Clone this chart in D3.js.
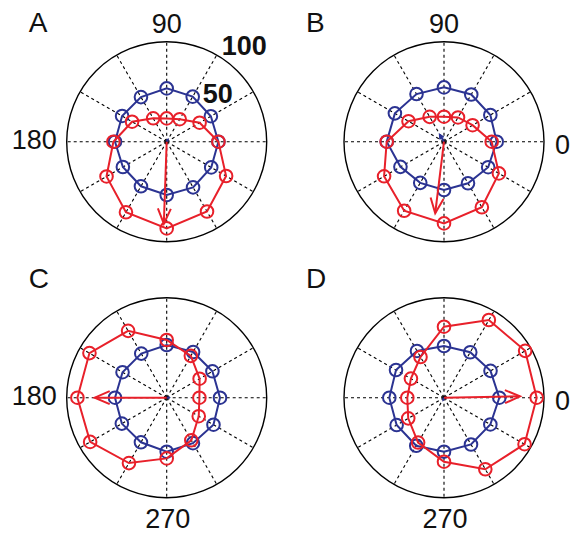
<!DOCTYPE html>
<html><head><meta charset="utf-8">
<script src="https://cdn.jsdelivr.net/npm/d3@7/dist/d3.min.js"></script>
<style>html,body{margin:0;padding:0;background:#fff;}svg{display:block;}</style>
</head><body>
<script>
// Directions (degrees, counter-clockwise from east)
const angles = [0, 30, 60, 90, 120, 150, 180, 210, 240, 270, 300, 330];
const panelNames = ["A", "B", "C", "D"];
const blueA = [51.7, 51, 52, 53.3, 51.5, 51.5, 51.7, 50.6, 51.5, 53.3, 52.7, 51.4];
const redA  = [51.7, 38, 26, 23.3, 27, 40, 53.3, 69.5, 81.5, 86.7, 80.6, 68.6];
const blueB = [52.7, 53.5, 54.5, 54.3, 55, 56.7, 57.3, 50.3, 47.5, 48.3, 48, 51];
const redB  = [47.7, 33, 28, 25, 28.7, 41, 57.3, 69.2, 79.7, 81.7, 75.7, 63.4];
const blueC = [53.3, 52.8, 52.8, 52.7, 50.9, 51, 51.7, 51.8, 51.5, 54, 52.5, 54];
const redC  = [32.7, 38, 48.3, 57.7, 77.2, 89.2, 89.3, 88.4, 75.5, 60.7, 49.2, 37];
const blueD = [55.3, 53.7, 52.5, 51.7, 54, 55.4, 54.7, 54.7, 55.5, 54, 54, 53.5];
const redD  = [92.7, 93.7, 89.7, 71, 47, 38.2, 36.7, 41.3, 51.8, 64, 82.6, 93];
// Mean vectors: [angle deg, length]
const redArrows  = [[268, 82], [263, 72], [180, 72], [1, 76]];
const blueArrows = [[60, 2], [121, 8], [0, 2], [250, 2]];
// Angle tick labels shown per panel
const angleLabels = [["90", "180"], ["90", "0"], ["180", "270"], ["0", "270"]];
const rTicks = ["50", "100"];
const rMax = 100;

const W = 573, H = 534;
const svg = d3.select("body").append("svg").attr("width", W).attr("height", H);
const font = "'Liberation Sans', Arial, Helvetica, sans-serif";
const blue = "#2b3392", red = "#e8202a";

const centers = [[166.7, 141.7], [444, 141.7], [166.7, 397.7], [444, 397.7]];
const R = 100;
const r = d3.scaleLinear().domain([0, rMax]).range([0, R]);
const toRad = d => d * Math.PI / 180;
const xy = (deg, v) => [r(v) * Math.cos(toRad(deg)), -r(v) * Math.sin(toRad(deg))];

const blues = [blueA, blueB, blueC, blueD];
const reds = [redA, redB, redC, redD];

panelNames.forEach((name, i) => {
  const [cx, cy] = centers[i];
  const g = svg.append("g").attr("transform", `translate(${cx},${cy})`);
  // spokes
  angles.forEach(a => {
    const [x, y] = xy(a, rMax);
    g.append("line").attr("x1", 0).attr("y1", 0).attr("x2", x).attr("y2", y)
      .attr("stroke", "#000").attr("stroke-width", 1.1).attr("stroke-dasharray", "3,3");
  });
  g.append("circle").attr("r", r(rMax)).attr("fill", "none").attr("stroke", "#000").attr("stroke-width", 1.4);

  const line = d3.lineRadial()
    .angle((d, k) => Math.PI / 2 - toRad(angles[k]))
    .radius(d => r(d))
    .curve(d3.curveLinearClosed);

  [[blues[i], blue], [reds[i], red]].forEach(([vals, col]) => {
    g.append("path").attr("d", line(vals)).attr("fill", "none").attr("stroke", col).attr("stroke-width", 2);
    vals.forEach((v, k) => {
      const [x, y] = xy(angles[k], v);
      g.append("circle").attr("cx", x).attr("cy", y).attr("r", 6.3)
        .attr("fill", "none").attr("stroke", col).attr("stroke-width", 2);
    });
  });

  // arrows
  [[blueArrows[i], blue], [redArrows[i], red]].forEach(([[ang, len], col]) => {
    const [x, y] = xy(ang, len);
    g.append("line").attr("x1", 0).attr("y1", 0).attr("x2", x).attr("y2", y)
      .attr("stroke", col).attr("stroke-width", 2);
    const hl = Math.min(15, r(len) * 0.5), hw = Math.min(6.5, r(len) * 0.25);
    const ux = Math.cos(toRad(ang)), uy = -Math.sin(toRad(ang));
    const bx = x - ux * hl, by = y - uy * hl;
    const px = -uy, py = ux;
    g.append("path")
      .attr("d", `M${bx + px * hw},${by + py * hw}L${x},${y}L${bx - px * hw},${by - py * hw}`)
      .attr("fill", "none").attr("stroke", col).attr("stroke-width", 2);
  });

  // panel letter
  svg.append("text").attr("x", cx - 138).attr("y", cy - 110).attr("font-family", font)
    .attr("font-size", 28).attr("fill", "#111").text(name);

  // angle labels
  angleLabels[i].forEach(t => {
    const tx = svg.append("text").attr("font-family", font).attr("font-size", 27).attr("fill", "#111").text(t);
    if (t === "90") tx.attr("x", cx).attr("y", cy - R - 9).attr("text-anchor", "middle");
    if (t === "270") tx.attr("x", cx + 1).attr("y", cy + R + 30).attr("text-anchor", "middle");
    if (t === "180") tx.attr("x", cx - R - 10).attr("y", cy + 7).attr("text-anchor", "end");
    if (t === "0") tx.attr("x", cx + R + 11).attr("y", cy + 12).attr("text-anchor", "start");
  });

  if (i === 0) {
    const pos = { "50": [36, -39], "100": [55, -87] };
    rTicks.forEach(t => {
      svg.append("text").attr("x", cx + pos[t][0]).attr("y", cy + pos[t][1])
        .attr("font-family", font).attr("font-weight", "bold").attr("font-size", 27)
        .attr("fill", "#111").text(t);
    });
  }
});
</script>
</body></html>
